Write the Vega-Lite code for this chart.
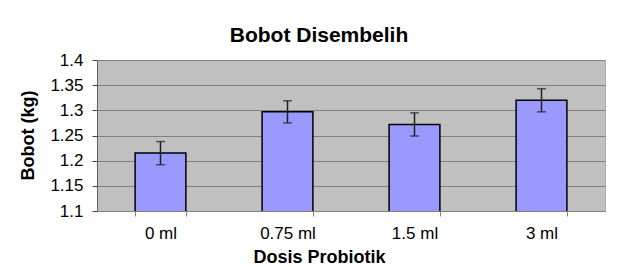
{
  "$schema": "https://vega.github.io/schema/vega-lite/v6.json",
  "width": 508,
  "height": 151,
  "autosize": {"type": "none"},
  "padding": {"left": 97, "top": 60, "right": 19, "bottom": 56},
  "background": "white",
  "title": {
    "text": "Bobot Disembelih",
    "font": "Liberation Sans",
    "fontSize": 21,
    "fontWeight": "bold",
    "color": "black",
    "anchor": "middle",
    "frame": "group",
    "dx": -32,
    "offset": 5
  },
  "config": {
    "view": {"fill": "#c0c0c0", "stroke": "#a8a8a8", "strokeWidth": 1},
    "axis": {
      "labelFont": "Liberation Sans",
      "titleFont": "Liberation Sans",
      "labelColor": "black",
      "titleColor": "black"
    }
  },
  "data": {
    "values": [
      {"dosis": "0 ml", "bobot": 1.215, "lo": 1.192, "hi": 1.238},
      {"dosis": "0.75 ml", "bobot": 1.297, "lo": 1.275, "hi": 1.319},
      {"dosis": "1.5 ml", "bobot": 1.272, "lo": 1.249, "hi": 1.295},
      {"dosis": "3 ml", "bobot": 1.32, "lo": 1.297, "hi": 1.343}
    ]
  },
  "encoding": {
    "x": {
      "field": "dosis",
      "type": "nominal",
      "sort": null,
      "scale": {"paddingInner": 0.6, "paddingOuter": 0.3},
      "axis": {
        "title": "Dosis Probiotik",
        "labelAngle": 0,
        "labelFontSize": 17,
        "labelPadding": 9,
        "tickBand": "extent",
        "tickSize": 5,
        "tickColor": "#808080",
        "domainColor": "#808080",
        "titleFontSize": 18,
        "titleFontWeight": "bold",
        "titleX": 222,
        "titleY": 51,
        "titleBaseline": "alphabetic",
        "grid": false
      }
    }
  },
  "layer": [
    {
      "mark": {"type": "bar", "fill": "#9999ff", "stroke": "black", "strokeWidth": 1.5, "clip": true},
      "encoding": {
        "y": {
          "field": "bobot",
          "type": "quantitative",
          "scale": {"domain": [1.1, 1.4], "zero": false, "nice": false},
          "axis": {
            "title": "Bobot (kg)",
            "values": [1.1, 1.15, 1.2, 1.25, 1.3, 1.35, 1.4],
            "format": ".3~g",
            "labelOverlap": false,
            "labelFontSize": 17,
            "labelPadding": 9,
            "tickSize": 5,
            "tickColor": "#404040",
            "domainColor": "#606060",
            "grid": true,
            "gridColor": "#808080",
            "gridWidth": 1.2,
            "titleFontSize": 18,
            "titleFontWeight": "bold",
            "titleX": -69,
            "titleY": 75,
            "titleAlign": "center",
            "titleBaseline": "middle"
          }
        }
      }
    },
    {
      "mark": {"type": "rule", "color": "#202020", "strokeWidth": 1.5},
      "encoding": {
        "y": {
          "field": "lo",
          "type": "quantitative",
          "axis": {
            "title": "Bobot (kg)",
            "values": [1.1, 1.15, 1.2, 1.25, 1.3, 1.35, 1.4],
            "format": ".3~g",
            "labelOverlap": false,
            "labelFontSize": 17,
            "labelPadding": 9,
            "tickSize": 5,
            "tickColor": "#404040",
            "domainColor": "#606060",
            "grid": true,
            "gridColor": "#808080",
            "gridWidth": 1.2,
            "titleFontSize": 18,
            "titleFontWeight": "bold",
            "titleX": -69,
            "titleY": 75,
            "titleAlign": "center",
            "titleBaseline": "middle"
          }
        },
        "y2": {"field": "hi"}
      }
    },
    {
      "mark": {"type": "tick", "color": "#202020", "size": 9, "thickness": 1.5},
      "encoding": {
        "y": {
          "field": "lo",
          "type": "quantitative",
          "axis": {
            "title": "Bobot (kg)",
            "values": [1.1, 1.15, 1.2, 1.25, 1.3, 1.35, 1.4],
            "format": ".3~g",
            "labelOverlap": false,
            "labelFontSize": 17,
            "labelPadding": 9,
            "tickSize": 5,
            "tickColor": "#404040",
            "domainColor": "#606060",
            "grid": true,
            "gridColor": "#808080",
            "gridWidth": 1.2,
            "titleFontSize": 18,
            "titleFontWeight": "bold",
            "titleX": -69,
            "titleY": 75,
            "titleAlign": "center",
            "titleBaseline": "middle"
          }
        }
      }
    },
    {
      "mark": {"type": "tick", "color": "#202020", "size": 9, "thickness": 1.5},
      "encoding": {
        "y": {
          "field": "hi",
          "type": "quantitative",
          "axis": {
            "title": "Bobot (kg)",
            "values": [1.1, 1.15, 1.2, 1.25, 1.3, 1.35, 1.4],
            "format": ".3~g",
            "labelOverlap": false,
            "labelFontSize": 17,
            "labelPadding": 9,
            "tickSize": 5,
            "tickColor": "#404040",
            "domainColor": "#606060",
            "grid": true,
            "gridColor": "#808080",
            "gridWidth": 1.2,
            "titleFontSize": 18,
            "titleFontWeight": "bold",
            "titleX": -69,
            "titleY": 75,
            "titleAlign": "center",
            "titleBaseline": "middle"
          }
        }
      }
    }
  ]
}
